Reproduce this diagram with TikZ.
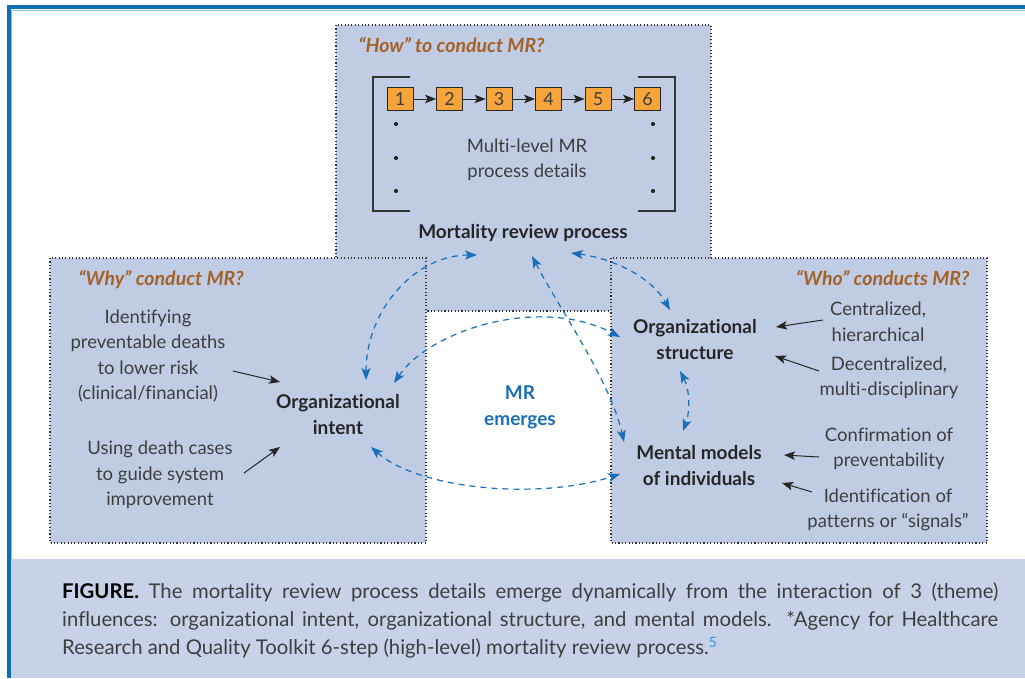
\documentclass[tikz,border=0pt]{standalone}
\usepackage{fontspec}
\setmainfont{Lato}[Ligatures={TeX,NoCommon}]
\usetikzlibrary{arrows.meta}

\definecolor{panelblue}{RGB}{191,204,228}
\definecolor{capblue}{RGB}{199,210,233}
\definecolor{frameblue}{RGB}{12,112,185}
\definecolor{framelight}{RGB}{140,190,230}
\definecolor{linkblue}{RGB}{25,110,185}
\definecolor{supblue}{RGB}{60,150,210}
\definecolor{titlebrown}{RGB}{165,98,40}
\definecolor{stepfill}{RGB}{247,164,58}
\definecolor{textgray}{RGB}{62,62,62}

\tikzset{
x=1pt, y=-1pt, % pixel grid, y runs downwards
panel/.style={fill=panelblue, draw=black!80, line width=1.1pt, dash pattern=on 1.1pt off 2.3pt}, % the three theme areas
heading/.style={font=\fontsize{19.5}{22}\selectfont\itshape\bfseries, text=titlebrown},
theme/.style={font=\fontsize{19}{26}\selectfont\bfseries, text=black!85, align=center},
influence/.style={font=\fontsize{18.5}{25.5}\selectfont, text=textgray, align=center},
stepbox/.style={draw=black!85, fill=stepfill, line width=0.9pt, minimum width=26pt, minimum height=23pt, inner sep=0pt, font=\fontsize{18}{18}\selectfont, text=textgray},
push/.style={-{Stealth[length=11pt,width=8.5pt,inset=2.5pt]}, line width=1pt, black!85}, % black influence arrows
link/.style={{Stealth[length=12pt,width=9pt,inset=3pt]}-{Stealth[length=12pt,width=9pt,inset=3pt]}, linkblue, line width=1.2pt, dash pattern=on 6pt off 5pt}, % blue two-way links
}

\begin{document}
\begin{tikzpicture}

\useasboundingbox (0,0) rectangle (1025,678);
\fill[white] (0,0) rectangle (1025,678);

% frame and caption band
\fill[capblue] (11,559) rectangle (1025,678);
\fill[frameblue] (7,5) rectangle (1025,9);
\fill[frameblue] (7,5) rectangle (11,678);
\draw[framelight, line width=1pt] (11.5,10) -- (1025,10);
\draw[framelight, line width=1pt] (11.5,10) -- (11.5,559);

% theme areas, the top one first so the side ones cover its lower corners
\filldraw[panel] (336,25) rectangle (711,311);
\filldraw[panel] (50,258) rectangle (426,543);
\filldraw[panel] (611,258) rectangle (987,543);

% how
\node[heading, anchor=base west] (howtitle) at (355,52) {“How” to conduct MR?};
\foreach \i in {1,...,6}
  \node[stepbox] (s\i) at ({400+49.5*(\i-1)},99) {\i};
\foreach \i [count=\j from 2] in {1,...,5}
  \draw[push] (s\i) -- (s\j);
\draw[line width=1.2pt, black!80] (410,77) -| (373,211) -- (410,211);
\draw[line width=1.2pt, black!80] (638,77) -| (675,211) -- (638,211);
\foreach \y in {124,158,191} {
  \fill[black!85] (396,\y) circle (2.1pt);
  \fill[black!85] (653,\y) circle (2.1pt);
}
\node[influence] (details) at (527,160) {Multi-level MR\\process details};
\node[theme] (process) at (523,233) {Mortality review process};

% why
\node[heading, anchor=base west] (whytitle) at (75,285) {“Why” conduct MR?};
\node[influence] (riskdeaths) at (148,356) {Identifying\\preventable deaths\\to lower risk\\(clinical/financial)};
\node[influence] (guidecases) at (160,475) {Using death cases\\to guide system\\improvement};
\node[theme] (intent) at (338,415) {Organizational\\intent};

% who
\node[heading, anchor=base east] (whotitle) at (973,285) {“Who” conducts MR?};
\node[theme] (structure) at (695,340) {Organizational\\structure};
\node[theme] (mental) at (699,466) {Mental models\\of individuals};
\node[influence] (central) at (878,322) {Centralized,\\hierarchical};
\node[influence] (decentral) at (889,378) {Decentralized,\\multi-disciplinary};
\node[influence] (confirm) at (889,449) {Confirmation of\\preventability};
\node[influence] (patterns) at (888,510) {Identification of\\patterns or “signals”};

\node[theme, text=linkblue] (emerges) at (520,407) {MR\\emerges};

% arrow ends
\coordinate (riskdeaths-a) at (233,371);
\coordinate (guidecases-a) at (244,473);
\coordinate (central-a) at (823,320);
\coordinate (decentral-a) at (819,371);
\coordinate (confirm-a) at (819,457);
\coordinate (patterns-a) at (812,492);
\coordinate (intent-a) at (366,380);
\coordinate (intent-b) at (394,383);
\coordinate (intent-c) at (371,447);
\coordinate (intent-d) at (280,382);
\coordinate (intent-e) at (280,447);
\coordinate (process-a) at (477,255);
\coordinate (process-b) at (571,253);
\coordinate (process-c) at (532,256);
\coordinate (structure-a) at (620,337);
\coordinate (structure-b) at (670,310);
\coordinate (structure-c) at (680,371);
\coordinate (structure-d) at (776,327);
\coordinate (structure-e) at (775,356);
\coordinate (mental-a) at (620,474);
\coordinate (mental-b) at (624,442);
\coordinate (mental-c) at (683,431);
\coordinate (mental-d) at (784,455);
\coordinate (mental-e) at (782,483);

% influences
\draw[push] (riskdeaths-a) -- (intent-d);
\draw[push] (guidecases-a) -- (intent-e);
\draw[push] (central-a) -- (structure-d);
\draw[push] (decentral-a) -- (structure-e);
\draw[push] (confirm-a) -- (mental-d);
\draw[push] (patterns-a) -- (mental-e);

% two-way links
\draw[link] (intent-a) .. controls (366,310) and (415,255) .. (process-a);
\draw[link] (intent-b) .. controls (430,330) and (540,295) .. (structure-a);
\draw[link] (intent-c) .. controls (420,490) and (540,500) .. (mental-a);
\draw[link] (process-b) .. controls (610,258) and (650,275) .. (structure-b);
\draw[link] (process-c) .. controls (560,310) and (610,380) .. (mental-b);
\draw[link] (structure-c) .. controls (690,390) and (690,412) .. (mental-c);

% caption
\node[anchor=north west, text width=936pt, align=justify, inner sep=0pt,
  font=\fontsize{20.3}{28}\selectfont, text=textgray] (caption) at (62,583)
  {\textbf{\color{black}FIGURE.} The mortality review process details emerge dynamically from the interaction of 3 (theme)\linebreak
  influences: organizational intent, organizational structure, and mental models. *Agency for Healthcare\linebreak
  Research and Quality Toolkit 6-step (high-level) mortality review process.\textsuperscript{\color{supblue}5}};

\end{tikzpicture}
\end{document}
